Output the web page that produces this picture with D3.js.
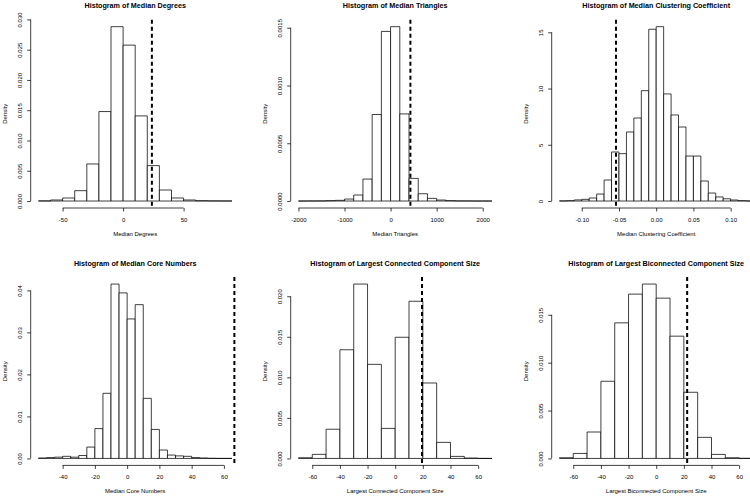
<!DOCTYPE html>
<html>
<head>
<meta charset="utf-8">
<script src="https://cdn.jsdelivr.net/npm/d3@7"></script>
<style>
    body { margin: 0; background: #fff; }
    text { font-family: "Liberation Sans", Arial, Helvetica, sans-serif; fill: #000; }
</style>
</head>
<body>
<svg id="chart"></svg>
<script>
// bin edges and densities, one set per panel
const degreeBreaks = [-70, -60, -50, -40, -30, -20, -10, 0, 10, 20, 30, 40, 50, 60, 70, 80, 90]
const degreeDensity = [0.00002, 0.00017, 0.0005, 0.00171, 0.00612, 0.01478, 0.0288, 0.02575, 0.01406, 0.00585, 0.00182, 0.0005, 0.00017, 0.00005, 0.00002, 0.00001]
const degreeObserved = 23.8
const degreeXTicks = [-50, 0, 50]
const degreeYTicks = [0, 0.005, 0.01, 0.015, 0.02, 0.025, 0.03]

const triangleBreaks = [-2000, -1800, -1600, -1400, -1200, -1000, -800, -600, -400, -200, 0, 200, 400, 600, 800, 1000, 1200, 1400, 1600, 1800, 2000, 2200]
const triangleDensity = [0, 0.0000005, 0.000001, 0.000003, 0.000006, 0.000017, 0.000052, 0.00019, 0.000749, 0.001468, 0.001509, 0.000754, 0.000196, 0.000063, 0.000023, 0.0000086, 0.000003, 0.000001, 0.0000005, 0, 0]
const triangleObserved = 430
const triangleXTicks = [-2000, -1000, 0, 1000, 2000]
const triangleYTicks = [0, 0.0005, 0.001, 0.0015]

const clusteringBreaks = [-0.13, -0.12, -0.11, -0.1, -0.09, -0.08, -0.07, -0.06, -0.05, -0.04, -0.03, -0.02, -0.01, 0, 0.01, 0.02, 0.03, 0.04, 0.05, 0.06, 0.07, 0.08, 0.09, 0.1, 0.11, 0.12, 0.13]
const clusteringDensity = [0.01, 0.03, 0.1, 0.15, 0.27, 0.62, 1.87, 4.36, 4.21, 6.14, 7.38, 9.81, 15.27, 15.5, 9.52, 7.65, 6.58, 4.0, 4.0, 1.78, 0.71, 0.36, 0.2, 0.09, 0.03, 0.01]
const clusteringObserved = -0.054
const clusteringXTicks = [-0.1, -0.05, 0, 0.05, 0.1]
const clusteringYTicks = [0, 5, 10, 15]

const coreBreaks = [-55, -50, -45, -40, -35, -30, -25, -20, -15, -10, -5, 0, 5, 10, 15, 20, 25, 30, 35, 40, 45, 50, 55, 60, 65]
const coreDensity = [0.0001, 0.0002, 0.0003, 0.0005, 0.0003, 0.0007, 0.0027, 0.0071, 0.0155, 0.0415, 0.0394, 0.0332, 0.0366, 0.0143, 0.0069, 0.002, 0.0008, 0.0006, 0.0005, 0.0002, 0.0001, 0.00003, 0, 0]
const coreObserved = 66.5
const coreXTicks = [-40, -20, 0, 20, 40, 60]
const coreYTicks = [0, 0.01, 0.02, 0.03, 0.04]

const lccBreaks = [-70, -60, -50, -40, -30, -20, -10, 0, 10, 20, 30, 40, 50, 60, 70]
const lccDensity = [0.00008, 0.0005, 0.0036, 0.0134, 0.0215, 0.0116, 0.0037, 0.01494, 0.01938, 0.0093, 0.00198, 0.00025, 0.00004, 0]
const lccObserved = 19.4
const lccXTicks = [-60, -40, -20, 0, 20, 40, 60]
const lccYTicks = [0, 0.005, 0.01, 0.015, 0.02]

const lbcBreaks = [-70, -60, -50, -40, -30, -20, -10, 0, 10, 20, 30, 40, 50, 60, 70]
const lbcDensity = [0.00007, 0.00052, 0.00276, 0.00806, 0.01416, 0.01716, 0.01821, 0.01674, 0.01277, 0.00691, 0.0022, 0.00042, 0.00007, 0.00001]
const lbcObserved = 22.4
const lbcXTicks = [-60, -40, -20, 0, 20, 40, 60]
const lbcYTicks = [0, 0.005, 0.01, 0.015]

const panels = [
    { title: "Histogram of Median Degrees", xlab: "Median Degrees", breaks: degreeBreaks, density: degreeDensity, observed: degreeObserved, xTicks: degreeXTicks, yTicks: degreeYTicks, xFmt: "d", yFmt: ".3f" },
    { title: "Histogram of Median Triangles", xlab: "Median Triangles", breaks: triangleBreaks, density: triangleDensity, observed: triangleObserved, xTicks: triangleXTicks, yTicks: triangleYTicks, xFmt: "d", yFmt: ".4f" },
    { title: "Histogram of Median Clustering Coefficient", xlab: "Median Clustering Coefficient", breaks: clusteringBreaks, density: clusteringDensity, observed: clusteringObserved, xTicks: clusteringXTicks, yTicks: clusteringYTicks, xFmt: ".2f", yFmt: "d" },
    { title: "Histogram of Median Core Numbers", xlab: "Median Core Numbers", breaks: coreBreaks, density: coreDensity, observed: coreObserved, xTicks: coreXTicks, yTicks: coreYTicks, xFmt: "d", yFmt: ".2f" },
    { title: "Histogram of Largest Connected Component Size", xlab: "Largest Connected Component Size", breaks: lccBreaks, density: lccDensity, observed: lccObserved, xTicks: lccXTicks, yTicks: lccYTicks, xFmt: "d", yFmt: ".3f" },
    { title: "Histogram of Largest Biconnected Component Size", xlab: "Largest Biconnected Component Size", breaks: lbcBreaks, density: lbcDensity, observed: lbcObserved, xTicks: lbcXTicks, yTicks: lbcYTicks, xFmt: "d", yFmt: ".3f" }
]

const W = 750
const H = 497
const plotW = 209
const plotH = 188.3
const colLeft = [30.7, 290.7, 551.7]
const rowTop = [19.7, 277.1]
const tick = 3.5

// R style numbers: plain hyphen for negatives
const locale = d3.formatLocale({ decimal: ".", thousands: ",", grouping: [3], currency: ["", ""], minus: "-" })

const svg = d3.select("#chart")
    .attr("width", W)
    .attr("height", H)
    .style("display", "block")

panels.forEach((p, i) => {
    const left = colLeft[i % 3]
    const top = rowTop[Math.floor(i / 3)]

    const lo = p.breaks[0]
    const hi = p.breaks[p.breaks.length - 1]
    const pad = (hi - lo) * 0.04
    const ymax = d3.max(p.density)

    const x = d3.scaleLinear().domain([lo - pad, hi + pad]).range([0, plotW])
    const y = d3.scaleLinear().domain([-0.04 * ymax, 1.04 * ymax]).range([plotH, 0])

    const g = svg.append("g").attr("transform", "translate(" + left + "," + top + ")")

    const bins = p.density.map((d, j) => ({ x0: p.breaks[j], x1: p.breaks[j + 1], d: d }))

    // paths instead of rects so empty bins still show as a line
    g.selectAll(".bar")
        .data(bins)
        .join("path")
        .attr("class", "bar")
        .attr("d", b => {
            const a = x(b.x0), c = x(b.x1), y0 = y(0), y1 = y(b.d)
            return "M" + a + "," + y0 + "V" + y1 + "H" + c + "V" + y0 + "Z"
        })
        .attr("fill", "#fff")
        .attr("stroke", "#000")
        .attr("stroke-width", 0.75)

    g.append("line")
        .attr("x1", x(p.observed))
        .attr("x2", x(p.observed))
        .attr("y1", 0)
        .attr("y2", plotH)
        .attr("stroke", "#000")
        .attr("stroke-width", 2)
        .attr("stroke-dasharray", "4,3")

    const xAxis = d3.axisBottom(x)
        .tickValues(p.xTicks)
        .tickSize(tick)
        .tickPadding(2)
        .tickFormat(locale.format(p.xFmt))

    const gx = g.append("g")
        .attr("transform", "translate(0," + plotH + ")")
        .call(xAxis)
    gx.select(".domain").remove()
    gx.append("line")
        .attr("x1", x(p.xTicks[0]))
        .attr("x2", x(p.xTicks[p.xTicks.length - 1]))
        .attr("stroke", "#000")
        .attr("stroke-width", 0.75)
    gx.selectAll("line").attr("stroke-width", 0.75)
    gx.selectAll("text")
        .attr("y", 11.7)
        .attr("dy", null)
        .attr("dominant-baseline", "central")
        .attr("font-size", 6)
        .attr("font-family", null)

    const yAxis = d3.axisLeft(y)
        .tickValues(p.yTicks)
        .tickSize(tick)
        .tickFormat(locale.format(p.yFmt))

    const gy = g.append("g").call(yAxis)
    gy.select(".domain").remove()
    gy.append("line")
        .attr("y1", y(p.yTicks[0]))
        .attr("y2", y(p.yTicks[p.yTicks.length - 1]))
        .attr("stroke", "#000")
        .attr("stroke-width", 0.75)
    gy.selectAll("line").attr("stroke-width", 0.75)
    gy.selectAll("text")
        .attr("x", null)
        .attr("dy", null)
        .attr("transform", "translate(-11,0) rotate(-90)")
        .attr("text-anchor", "middle")
        .attr("dominant-baseline", "central")
        .attr("font-size", 6)
        .attr("font-family", null)

    g.append("text")
        .attr("x", plotW / 2)
        .attr("y", -14)
        .attr("text-anchor", "middle")
        .attr("dominant-baseline", "central")
        .attr("font-size", 7.2)
        .attr("font-weight", "bold")
        .text(p.title)

    g.append("text")
        .attr("x", plotW / 2)
        .attr("y", plotH + 26)
        .attr("text-anchor", "middle")
        .attr("dominant-baseline", "central")
        .attr("font-size", 6)
        .text(p.xlab)

    g.append("text")
        .attr("transform", "translate(-25.5," + plotH / 2 + ") rotate(-90)")
        .attr("text-anchor", "middle")
        .attr("dominant-baseline", "central")
        .attr("font-size", 6)
        .text("Density")
})
</script>
</body>
</html>
